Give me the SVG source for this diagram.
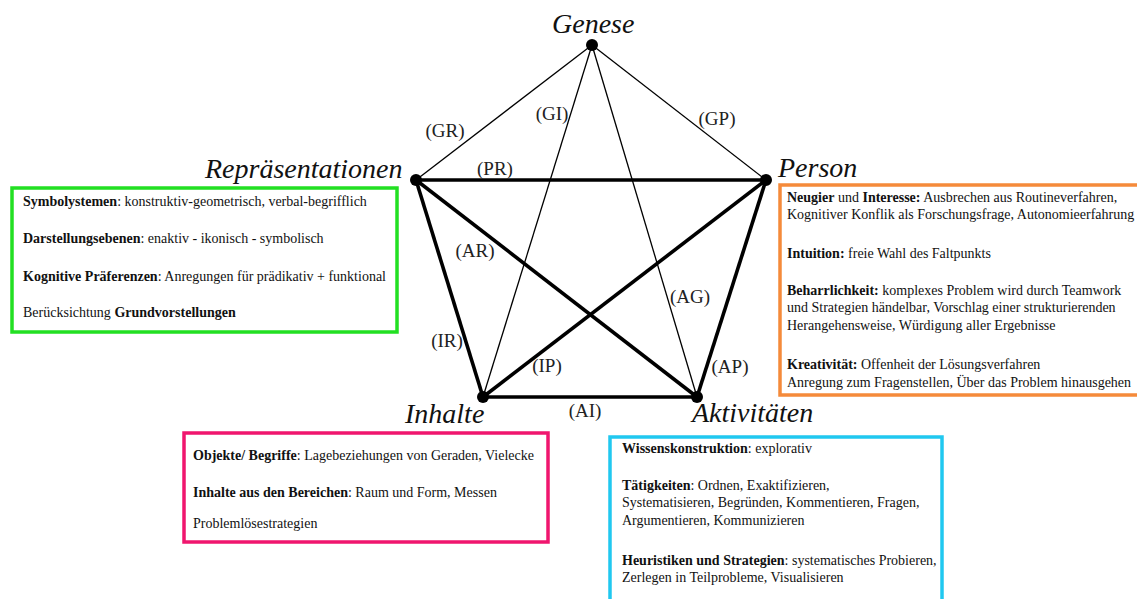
<svg xmlns="http://www.w3.org/2000/svg" width="1137" height="599" viewBox="0 0 1137 599">
<style>
.bg{fill:#fff}
.thin{stroke:#000;stroke-width:1.3;fill:none}
.thick{stroke:#000;stroke-width:3.6;fill:none}
.dot{fill:#000}
.node{font-family:"Liberation Serif",serif;font-style:italic;font-size:28px;fill:#111}
.lbl{font-family:"Liberation Serif",serif;font-size:19px;fill:#222;text-anchor:middle}
.box{fill:#fff;stroke-width:3.5}
.t{font-family:"Liberation Serif",serif;font-size:14px;fill:#111}
.b{font-weight:bold}
</style>
<rect class="bg" x="0" y="0" width="1137" height="599"/>
<g id="connectors">
<line class="thin" x1="592" y1="45" x2="416" y2="180"/>
<line class="thin" x1="592" y1="45" x2="766" y2="180"/>
<line class="thin" x1="592" y1="45" x2="483" y2="397"/>
<line class="thin" x1="592" y1="45" x2="697" y2="397"/>
<line class="thick" x1="416" y1="180" x2="766" y2="180"/>
<line class="thick" x1="416" y1="180" x2="483" y2="397"/>
<line class="thick" x1="416" y1="180" x2="697" y2="397"/>
<line class="thick" x1="766" y1="180" x2="483" y2="397"/>
<line class="thick" x1="766" y1="180" x2="697" y2="397"/>
<line class="thick" x1="483" y1="397" x2="697" y2="397"/>
<text class="lbl" x="445" y="137">(GR)</text>
<text class="lbl" x="552" y="120">(GI)</text>
<text class="lbl" x="717" y="125">(GP)</text>
<text class="lbl" x="495" y="175">(PR)</text>
<text class="lbl" x="475" y="257">(AR)</text>
<text class="lbl" x="690" y="303">(AG)</text>
<text class="lbl" x="447" y="347">(IR)</text>
<text class="lbl" x="547" y="372">(IP)</text>
<text class="lbl" x="730" y="373">(AP)</text>
<text class="lbl" x="585" y="417">(AI)</text>
</g>
<g id="genese">
<circle class="dot" cx="592" cy="45" r="6"/>
<text class="node" x="552" y="33">Genese</text>
</g>
<g id="repraesentationen">
<circle class="dot" cx="416" cy="180" r="6"/>
<text class="node" x="205" y="178">Repräsentationen</text>
<rect class="box" x="12" y="188" width="385" height="144" stroke="#22e022"/>
<text class="t" x="23" y="206"><tspan class="b">Symbolystemen</tspan>: konstruktiv-geometrisch, verbal-begrifflich</text>
<text class="t" x="23" y="243"><tspan class="b">Darstellungsebenen</tspan>: enaktiv - ikonisch - symbolisch</text>
<text class="t" x="23" y="281"><tspan class="b">Kognitive Präferenzen</tspan>: Anregungen für prädikativ + funktional</text>
<text class="t" x="23" y="317">Berücksichtung <tspan class="b">Grundvorstellungen</tspan></text>
</g>
<g id="person">
<circle class="dot" cx="766" cy="180" r="6"/>
<text class="node" x="778" y="177">Person</text>
<rect class="box" x="780" y="185" width="370" height="210" stroke="#f58a3a"/>
<text class="t" x="787" y="202"><tspan class="b">Neugier</tspan> und <tspan class="b">Interesse:</tspan> Ausbrechen aus Routineverfahren,</text>
<text class="t" x="787" y="219">Kognitiver Konflik als Forschungsfrage, Autonomieerfahrung</text>
<text class="t" x="787" y="258"><tspan class="b">Intuition:</tspan> freie Wahl des Faltpunkts</text>
<text class="t" x="787" y="295"><tspan class="b">Beharrlichkeit:</tspan> komplexes Problem wird durch Teamwork</text>
<text class="t" x="787" y="312">und Strategien händelbar, Vorschlag einer strukturierenden</text>
<text class="t" x="787" y="330">Herangehensweise, Würdigung aller Ergebnisse</text>
<text class="t" x="787" y="369"><tspan class="b">Kreativität:</tspan> Offenheit der Lösungsverfahren</text>
<text class="t" x="787" y="387">Anregung zum Fragenstellen, Über das Problem hinausgehen</text>
</g>
<g id="inhalte">
<circle class="dot" cx="483" cy="397" r="6"/>
<text class="node" x="405" y="423">Inhalte</text>
<rect class="box" x="184" y="433" width="364" height="109" stroke="#f0166e"/>
<text class="t" x="193" y="460"><tspan class="b">Objekte/ Begriffe</tspan>: Lagebeziehungen von Geraden, Vielecke</text>
<text class="t" x="193" y="497"><tspan class="b">Inhalte aus den Bereichen</tspan>: Raum und Form, Messen</text>
<text class="t" x="193" y="528">Problemlösestrategien</text>
</g>
<g id="aktivitaeten">
<circle class="dot" cx="697" cy="397" r="6"/>
<text class="node" x="692" y="422">Aktivitäten</text>
<rect class="box" x="610" y="437" width="332" height="180" stroke="#20c8f0"/>
<text class="t" x="622" y="453"><tspan class="b">Wissenskonstruktion</tspan>: explorativ</text>
<text class="t" x="622" y="490"><tspan class="b">Tätigkeiten</tspan>: Ordnen, Exaktifizieren,</text>
<text class="t" x="622" y="507">Systematisieren, Begründen, Kommentieren, Fragen,</text>
<text class="t" x="622" y="525">Argumentieren, Kommunizieren</text>
<text class="t" x="622" y="565"><tspan class="b">Heuristiken und Strategien</tspan>: systematisches Probieren,</text>
<text class="t" x="622" y="582">Zerlegen in Teilprobleme, Visualisieren</text>
</g>
</svg>
